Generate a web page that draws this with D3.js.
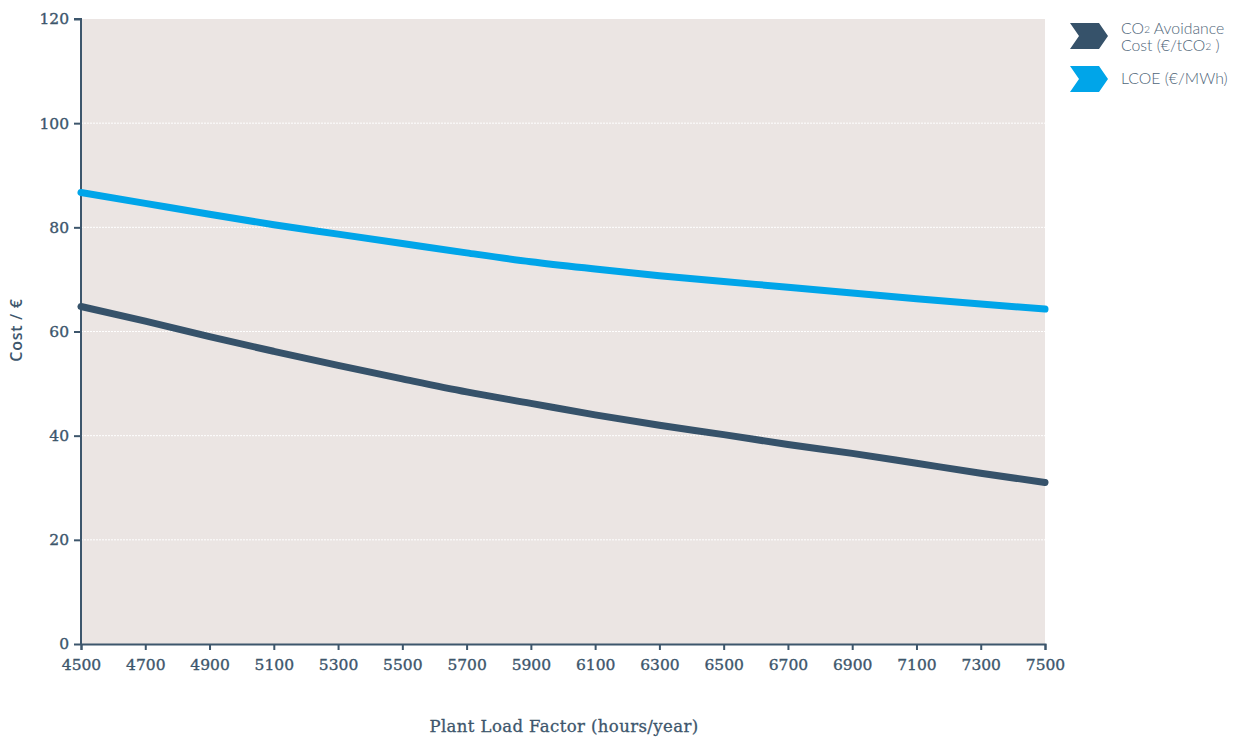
<!DOCTYPE html>
<html><head><meta charset="utf-8">
<script src="https://cdn.jsdelivr.net/npm/d3@7/dist/d3.min.js"></script>
<style>
body{margin:0;background:#fff;}
svg{display:block;}
</style></head>
<body><svg id="chart" width="1241" height="740"></svg>
<script>
const hours = [4500,4700,4900,5100,5300,5500,5700,5900,6100,6300,6500,6700,6900,7100,7300,7500];
const co2Cost = [64.8,62.0,59.0,56.2,53.5,50.9,48.4,46.2,44.0,42.0,40.2,38.3,36.6,34.7,32.8,31.0];
const lcoe = [86.7,84.6,82.5,80.5,78.7,76.9,75.1,73.4,72.0,70.7,69.6,68.5,67.4,66.3,65.3,64.3];
const xTicks = [4500,4700,4900,5100,5300,5500,5700,5900,6100,6300,6500,6700,6900,7100,7300,7500];
const yTicks = [0,20,40,60,80,100,120];
const gridTicks = [20,40,60,80,100];

const axisColor = "#3d566c";
const darkColor = "#36526a";
const blueColor = "#00a5e9";

const svg = d3.select("#chart");
const m = {left:81, right:1045, top:19, bottom:644};
const x = d3.scaleLinear().domain([4500,7500]).range([m.left,m.right]);
const y = d3.scaleLinear().domain([0,120]).range([m.bottom,m.top]);

svg.append("rect").attr("x",m.left).attr("y",m.top)
  .attr("width",m.right-m.left).attr("height",m.bottom-m.top).attr("fill","#ebe5e3");

svg.append("g").selectAll("line").data(gridTicks).join("line")
  .attr("x1",m.left).attr("x2",m.right)
  .attr("y1",d=>y(d)).attr("y2",d=>y(d))
  .attr("stroke","#ffffff").attr("stroke-width",1).attr("stroke-dasharray","2,1");

const serif = "'DejaVu Serif', serif";

const yAxis = svg.append("g").attr("transform",`translate(${m.left},0)`)
  .call(d3.axisLeft(y).tickValues(yTicks).tickSize(7).tickPadding(5).tickFormat(d3.format("d")));
const xAxis = svg.append("g").attr("transform",`translate(0,${m.bottom})`)
  .call(d3.axisBottom(x).tickValues(xTicks).tickSize(6).tickPadding(9).tickFormat(d3.format("d")));
[yAxis,xAxis].forEach(a=>{
  a.selectAll("path").attr("stroke",axisColor).attr("stroke-width",2);
  a.selectAll("line").attr("stroke",axisColor).attr("stroke-width",2);
  a.selectAll("text").attr("fill",axisColor).attr("stroke",axisColor).attr("stroke-width",0.35)
    .style("font-family",serif).style("font-size","15.5px");
});
yAxis.select("path").attr("d",`M0,${m.bottom+1}V${m.top}H-7`);

const line = d3.line().x((d,i)=>x(hours[i])).y(d=>y(d)).curve(d3.curveMonotoneX);
svg.append("path").datum(co2Cost).attr("d",line).attr("fill","none")
  .attr("stroke",darkColor).attr("stroke-width",7).attr("stroke-linecap","round");
svg.append("path").datum(lcoe).attr("d",line).attr("fill","none")
  .attr("stroke",blueColor).attr("stroke-width",7).attr("stroke-linecap","round");

svg.append("text").attr("x",(m.left+m.right)/2+1).attr("y",732)
  .attr("text-anchor","middle").attr("fill",axisColor).attr("stroke",axisColor).attr("stroke-width",0.3)
  .style("font-family",serif).style("font-size","16.5px").style("letter-spacing","0.4px")
  .text("Plant Load Factor (hours/year)");

svg.append("text").attr("transform",`translate(22,${330}) rotate(-90)`)
  .attr("text-anchor","middle").attr("fill",axisColor)
  .style("font-family","'Open Sans', sans-serif").style("font-size","16px")
  .style("font-weight","600").style("letter-spacing","0.7px").text("Cost / €");

// legend
const chev = (x0,y0,w,h,n)=>`M${x0},${y0}H${x0+w-n}L${x0+w},${y0+h/2}L${x0+w-n},${y0+h}H${x0}L${x0+n},${y0+h/2}Z`;
const leg = svg.append("g");
leg.append("path").attr("d",chev(1070,23,38,26,9)).attr("fill",darkColor);
leg.append("path").attr("d",chev(1070,66,38,26,9)).attr("fill",blueColor);
const lf = "Lato, 'Open Sans', sans-serif";
const legColor = "#4f6679";
const fs = "15.8px";
const t1 = leg.append("text").attr("x",1121).attr("y",34).attr("fill",legColor)
  .style("font-family",lf).style("font-size",fs).style("font-weight","300");
t1.append("tspan").text("CO");
t1.append("tspan").attr("font-size","10.5px").attr("dy","-1").text("2");
t1.append("tspan").attr("dy","1").text(" Avoidance");
const t2 = leg.append("text").attr("x",1121).attr("y",51).attr("fill",legColor)
  .style("font-family",lf).style("font-size",fs).style("font-weight","300");
t2.append("tspan").text("Cost (€/tCO");
t2.append("tspan").attr("font-size","10.5px").attr("dy","-1").text("2");
t2.append("tspan").attr("dy","1").text(" )");
leg.append("text").attr("x",1121).attr("y",84).attr("fill",legColor)
  .style("font-family",lf).style("font-size",fs).style("font-weight","300").text("LCOE (€/MWh)");
</script></body></html>
